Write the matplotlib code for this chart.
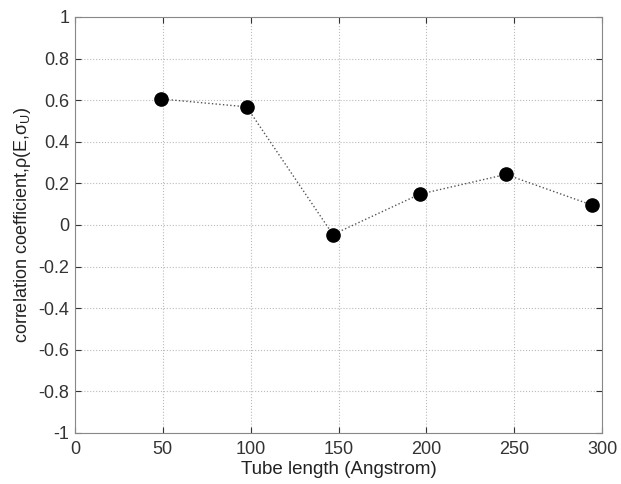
import matplotlib
matplotlib.use("Agg")
import matplotlib.pyplot as plt

plt.rcParams['font.family'] = ['Liberation Sans', 'DejaVu Sans']
plt.rcParams['mathtext.fontset'] = 'custom'
plt.rcParams['mathtext.rm'] = 'Liberation Sans'
plt.rcParams['mathtext.it'] = 'Liberation Sans'

tube_length = [48.7, 97.7, 146.8, 196.2, 245.3, 294.5]
corr = [0.606, 0.568, -0.046, 0.148, 0.243, 0.095]
xticks = [0, 50, 100, 150, 200, 250, 300]
yticks = [-1, -0.8, -0.6, -0.4, -0.2, 0, 0.2, 0.4, 0.6, 0.8, 1]

fig = plt.figure(figsize=(6.21, 4.84), dpi=100)
ax = fig.add_axes([0.1208, 0.1054, 0.8486, 0.8595])

ax.plot(tube_length, corr, linestyle=':', color='#555555', linewidth=1.0,
        marker='o', markersize=9.5, markerfacecolor='black',
        markeredgecolor='black', zorder=3)

ax.set_xlim(0, 300)
ax.set_ylim(-1, 1)
ax.set_xticks(xticks)
ax.set_yticks(yticks)
ax.set_yticklabels(['%g' % t for t in yticks])
ax.grid(True, linestyle=':', color='#bbbbbb', linewidth=0.8)
ax.tick_params(direction='in', labelsize=13, colors='#333333', length=4,
               top=True, right=True, pad=4)
ax.tick_params(axis='x', pad=6)
for s in ax.spines.values():
    s.set_color('#888888')

ax.set_xlabel('Tube length (Angstrom)', fontsize=13.5, color='#222222', labelpad=2)
ax.set_ylabel(r'correlation coefficient,$\rho$(E,$\sigma_U$)', fontsize=13,
              color='#222222', labelpad=4)

fig.savefig('out.png', dpi=100)
